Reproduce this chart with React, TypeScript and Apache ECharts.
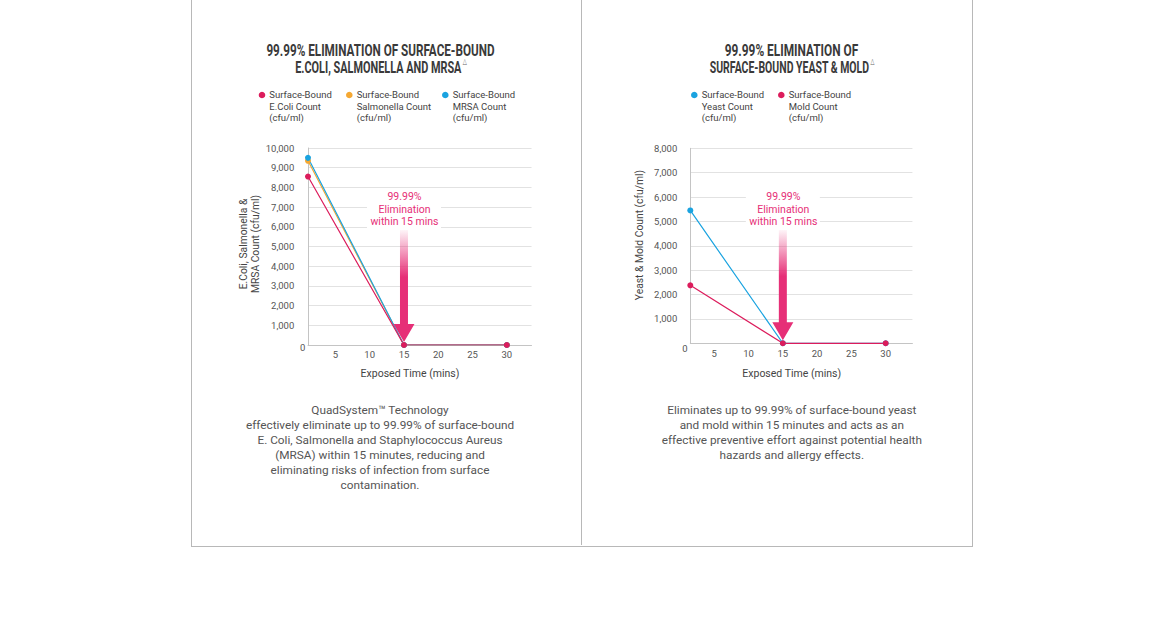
import React, { useEffect, useRef } from "react";
import * as echarts from "echarts";

// ---- data ----
const timeLeft = [1, 15, 30];
const ecoliCount = [8550, 1, 1];
const salmonellaCount = [9350, 1, 1];
const mrsaCount = [9500, 1, 1];

const timeRight = [1.5, 15, 30];
const yeastCount = [5450, 1, 1];
const moldCount = [2380, 1, 1];

const xTickValues = [5, 10, 15, 20, 25, 30];

const PINK = "#dc1c5c";
const ORANGE = "#f5a833";
const BLUE = "#1aa3e0";
const ARROW = "#e62f77";
const FONT = "Roboto, 'Noto Sans', sans-serif";
const TITLE_FONT = "Roboto, 'Noto Sans', sans-serif";

const pairs = (xs: number[], ys: number[]) => xs.map((x, i) => [x, ys[i]]);

const fmt = (v: number) => (v === 0 ? "" : v.toLocaleString("en-US"));

function lineSeries(name: string, xs: number[], ys: number[], color: string, idx: number) {
  return {
    name,
    type: "line",
    xAxisIndex: idx,
    yAxisIndex: idx,
    data: pairs(xs, ys),
    symbol: "circle",
    symbolSize: 6,
    showSymbol: true,
    lineStyle: { color, width: 1.2 },
    itemStyle: { color },
    emphasis: { disabled: true },
  };
}

function xAxisCfg(idx: number, min: number, max: number, margin: number) {
  return {
    type: "value",
    gridIndex: idx,
    min,
    max,
    axisLine: { show: true, onZero: false, lineStyle: { color: "#c4c4c4", width: 1 } },
    axisTick: { show: false },
    splitLine: { show: false },
    axisLabel: {
      customValues: xTickValues,
      color: "#555",
      fontSize: 9.5,
      fontFamily: FONT,
      margin,
    },
  };
}

function yAxisCfg(idx: number, max: number, margin: number) {
  return {
    type: "value",
    gridIndex: idx,
    min: 0,
    max,
    interval: 1000,
    axisLine: { show: true, lineStyle: { color: "#c4c4c4", width: 1 } },
    axisTick: { show: false },
    splitLine: { show: true, lineStyle: { color: "#e2e2e2", width: 1.2 } },
    axisLabel: {
      formatter: fmt,
      color: "#555",
      fontSize: 9.5,
      fontFamily: FONT,
      margin,
    },
  };
}

function legendItem(cx: number, tx: number, color: string, text: string) {
  return [
    { type: "circle", z: 20, shape: { cx, cy: 95, r: 3.3 }, style: { fill: color } },
    {
      type: "text",
      z: 20,
      x: tx,
      y: 88.6,
      style: {
        text,
        fill: "#444",
        fontSize: 9.5,
        fontFamily: FONT,
        lineHeight: 11.7,
        align: "left",
        verticalAlign: "top",
      },
    },
  ];
}

function titleLine(cx: number, cy: number, text: string, sx: number, withMark: boolean) {
  return {
    type: "text",
    z: 20,
    x: cx,
    y: cy,
    scaleX: sx,
    style: {
      text: withMark ? `{a|${text}}{s|\u25B3}` : `{a|${text}}`,
      align: "center",
      verticalAlign: "middle",
      rich: {
        a: { fontSize: 16.5, fontWeight: "bold", fontFamily: TITLE_FONT, fill: "#3a3a3a", lineHeight: 16 },
        s: { fontSize: 8, fontFamily: "'DejaVu Sans', sans-serif", fill: "#666", lineHeight: 16, padding: [0, 0, 10, 2] },
      },
    },
  };
}

function annotation(p: number[]) {
  const cx = p[0];
  const tip = p[1] - 3;
  const headTop = tip - 18;
  const shaftTop = 230;
  return [
    { type: "rect", z: 10, shape: { x: cx - 37, y: 189, width: 74, height: 41 }, style: { fill: "#fff" } },
    {
      type: "polygon",
      z: 11,
      shape: {
        points: [
          [cx - 4, shaftTop],
          [cx + 4, shaftTop],
          [cx + 4, headTop],
          [cx + 10.5, headTop],
          [cx, tip],
          [cx - 10.5, headTop],
          [cx - 4, headTop],
        ],
      },
      style: {
        fill: {
          type: "linear",
          x: 0,
          y: 0,
          x2: 0,
          y2: 1,
          colorStops: [
            { offset: 0, color: "rgba(230,47,119,0.05)" },
            { offset: 0.42, color: ARROW },
            { offset: 1, color: ARROW },
          ],
        },
      },
    },
    {
      type: "text",
      z: 12,
      x: cx + 0.5,
      y: 190.5,
      style: {
        text: "99.99%\nElimination\nwithin 15 mins",
        fill: ARROW,
        fontSize: 10.5,
        fontFamily: FONT,
        lineHeight: 12.5,
        align: "center",
        verticalAlign: "top",
      },
    },
  ];
}

function plainText(x: number, y: number, text: string, size: number, color: string, lh: number, rotation = 0, vAlign = "top") {
  return {
    type: "text",
    z: 20,
    x,
    y,
    rotation,
    style: { text, fill: color, fontSize: size, fontFamily: FONT, lineHeight: lh, align: "center", verticalAlign: vAlign },
  };
}

function borders() {
  const s = { stroke: "#b8b8b8", lineWidth: 1 };
  return [
    { type: "line", z: 5, shape: { x1: 191.5, y1: 0, x2: 191.5, y2: 546.5 }, style: s },
    { type: "line", z: 5, shape: { x1: 972.5, y1: 0, x2: 972.5, y2: 546.5 }, style: s },
    { type: "line", z: 5, shape: { x1: 191, y1: 546.5, x2: 973, y2: 546.5 }, style: s },
    { type: "line", z: 5, shape: { x1: 581.5, y1: 0, x2: 581.5, y2: 545 }, style: s },
  ];
}

export default function App() {
  const ref = useRef<HTMLDivElement>(null);
  useEffect(() => {
    if (!ref.current) return;
    const chart = echarts.init(ref.current, null, { renderer: "svg" });
    chart.setOption({
      animation: false,
      backgroundColor: "#fff",
      grid: [
        { left: 308, top: 148, width: 223.5, height: 197 },
        { left: 690.3, top: 148.3, width: 222.1, height: 195 },
      ],
      xAxis: [xAxisCfg(0, 1, 33.6, 4), xAxisCfg(1, 1.5, 33.9, 5)],
      yAxis: [yAxisCfg(0, 10000, 13.7), yAxisCfg(1, 8000, 13)],
      series: [
        lineSeries("Surface-Bound Salmonella Count (cfu/ml)", timeLeft, salmonellaCount, ORANGE, 0),
        lineSeries("Surface-Bound MRSA Count (cfu/ml)", timeLeft, mrsaCount, BLUE, 0),
        lineSeries("Surface-Bound E.Coli Count (cfu/ml)", timeLeft, ecoliCount, PINK, 0),
        lineSeries("Surface-Bound Yeast Count (cfu/ml)", timeRight, yeastCount, BLUE, 1),
        lineSeries("Surface-Bound Mold Count (cfu/ml)", timeRight, moldCount, PINK, 1),
      ],
    });
    const p1 = chart.convertToPixel({ gridIndex: 0 }, [15, 0]) as number[];
    const p2 = chart.convertToPixel({ gridIndex: 1 }, [15, 0]) as number[];
    chart.setOption({
      graphic: [
        ...borders(),
        titleLine(380.5, 50.7, "99.99% ELIMINATION OF SURFACE-BOUND", 0.71, false),
        titleLine(381, 66.7, "E.COLI, SALMONELLA AND MRSA", 0.66, true),
        titleLine(791.5, 50.7, "99.99% ELIMINATION OF", 0.72, false),
        titleLine(792, 66.7, "SURFACE-BOUND YEAST & MOLD", 0.635, true),
        ...legendItem(262, 269.3, PINK, "Surface-Bound\nE.Coli Count\n(cfu/ml)"),
        ...legendItem(349.3, 356.7, ORANGE, "Surface-Bound\nSalmonella Count\n(cfu/ml)"),
        ...legendItem(445.3, 452.7, BLUE, "Surface-Bound\nMRSA Count\n(cfu/ml)"),
        ...legendItem(694.3, 701.7, BLUE, "Surface-Bound\nYeast Count\n(cfu/ml)"),
        ...legendItem(781.3, 788.7, PINK, "Surface-Bound\nMold Count\n(cfu/ml)"),
        plainText(249.2, 244, "E.Coli, Salmonella &\nMRSA Count (cfu/ml)", 10.3, "#444", 11.7, Math.PI / 2, "middle"),
        plainText(639.3, 235, "Yeast & Mold Count (cfu/ml)", 10.3, "#444", 11.7, Math.PI / 2, "middle"),
        plainText(410, 373.3, "Exposed Time (mins)", 10.5, "#444", 12, 0, "middle"),
        plainText(791.7, 373.3, "Exposed Time (mins)", 10.5, "#444", 12, 0, "middle"),
        plainText(302.7, 347.5, "0", 9.5, "#555", 11, 0, "middle"),
        plainText(685, 348, "0", 9.5, "#555", 11, 0, "middle"),
        ...annotation(p1),
        ...annotation(p2),
        plainText(
          380,
          402.5,
          "QuadSystem\u2122 Technology\neffectively eliminate up to 99.99% of surface-bound\nE. Coli, Salmonella and Staphylococcus Aureus\n(MRSA) within 15 minutes, reducing and\neliminating risks of infection from surface\ncontamination.",
          11.8,
          "#555",
          15
        ),
        plainText(
          791.8,
          402.5,
          "Eliminates up to 99.99% of surface-bound yeast\nand mold within 15 minutes and acts as an\neffective preventive effort against potential health\nhazards and allergy effects.",
          11.8,
          "#555",
          15
        ),
      ],
    });
    return () => chart.dispose();
  }, []);
  return (
    <div
      ref={ref}
      style={{ position: "fixed", left: 0, top: 0, width: 1170, height: 625, background: "#fff" }}
    />
  );
}
